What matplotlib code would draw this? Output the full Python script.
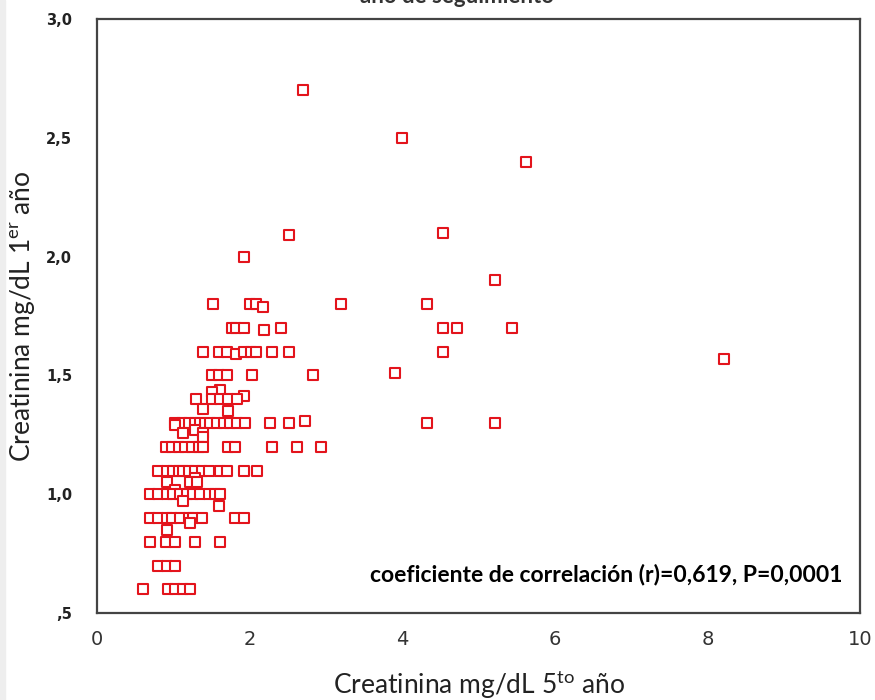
import numpy as np
import matplotlib
matplotlib.use("Agg")
import matplotlib.pyplot as plt
from matplotlib.patches import Rectangle

# creatinine 5th year (x) vs 1st year (y)
crea_5to = [
    2.70, 4.00, 5.62, 2.52, 4.53, 1.93, 5.22,
    1.52, 2.01, 2.08, 2.18, 3.19, 4.32,
    1.77, 1.82, 1.93, 2.19, 2.41, 4.53, 4.72, 5.44,
    1.39, 1.60, 1.70, 1.82, 1.93, 2.02, 2.08, 2.29, 2.52, 4.53,
    8.22, 3.91,
    1.50, 1.60, 1.70, 2.03, 2.83,
    1.61, 1.50, 1.93,
    1.30, 1.50, 1.61, 1.72, 1.83,
    1.39, 1.71,
    1.02, 1.11, 1.20, 1.28, 1.35, 1.41, 1.48, 1.57, 1.66, 1.74, 1.83, 1.94, 2.27, 2.51, 4.32, 5.22,
    2.73, 1.02, 1.28, 1.13, 1.39, 1.39,
    0.90, 0.98, 1.07, 1.15, 1.24, 1.33, 1.39, 1.71, 1.81, 2.29, 2.62, 2.94,
    0.80, 0.92, 1.00, 1.07, 1.13, 1.20, 1.28, 1.37, 1.46, 1.61, 1.70, 1.92, 2.09,
    1.28, 0.91, 1.22, 1.31, 1.02,
    0.69, 0.80, 0.91, 1.00, 1.09, 1.18, 1.26, 1.35, 1.46, 1.55, 1.61,
    1.12, 1.60,
    0.69, 0.80, 0.91, 0.98, 1.09, 1.20, 1.26, 1.37, 1.81, 1.92,
    1.22, 0.91,
    0.69, 0.90, 1.02, 1.28, 1.61,
    0.80, 0.91, 1.02,
    0.60, 0.93, 1.02, 1.12, 1.22,
]
crea_1er = [
    2.70, 2.50, 2.40, 2.09, 2.10, 2.00, 1.90,
    1.80, 1.80, 1.80, 1.79, 1.80, 1.80,
    1.70, 1.70, 1.70, 1.69, 1.70, 1.70, 1.70, 1.70,
    1.60, 1.60, 1.60, 1.59, 1.60, 1.60, 1.60, 1.60, 1.60, 1.60,
    1.57, 1.51,
    1.50, 1.50, 1.50, 1.50, 1.50,
    1.44, 1.43, 1.415,
    1.40, 1.40, 1.40, 1.40, 1.40,
    1.36, 1.35,
    1.30, 1.30, 1.30, 1.30, 1.30, 1.30, 1.30, 1.30, 1.30, 1.30, 1.30, 1.30, 1.30, 1.30, 1.30, 1.30,
    1.31, 1.29, 1.27, 1.26, 1.26, 1.24,
    1.20, 1.20, 1.20, 1.20, 1.20, 1.20, 1.20, 1.20, 1.20, 1.20, 1.20, 1.20,
    1.10, 1.10, 1.10, 1.10, 1.10, 1.10, 1.10, 1.10, 1.10, 1.10, 1.10, 1.10, 1.10,
    1.07, 1.05, 1.05, 1.05, 1.02,
    1.00, 1.00, 1.00, 1.00, 1.00, 1.00, 1.00, 1.00, 1.00, 1.00, 1.00,
    0.97, 0.95,
    0.90, 0.90, 0.90, 0.90, 0.90, 0.90, 0.90, 0.90, 0.90, 0.90,
    0.88, 0.85,
    0.80, 0.80, 0.80, 0.80, 0.80,
    0.70, 0.70, 0.70,
    0.60, 0.60, 0.60, 0.60, 0.60,
]

x_ticks = [0, 2, 4, 6, 8, 10]
y_ticks = [0.5, 1.0, 1.5, 2.0, 2.5, 3.0]
y_tick_labels = [",5", "1,0", "1,5", "2,0", "2,5", "3,0"]

# superscripts in the same family as the labels
plt.rcParams['mathtext.fontset'] = 'custom'
plt.rcParams['mathtext.rm'] = 'Lato'

fig = plt.figure(figsize=(8.75, 7), dpi=100)
ax = fig.add_axes([0.111, 0.124, 0.872, 0.849])

ax.scatter(crea_5to, crea_1er, marker='s', s=44, facecolors='white',
           edgecolors='#e3141c', linewidths=1.5, zorder=3)

ax.set_xlim(0, 10)
ax.set_ylim(0.5, 3.0)
ax.set_xticks(x_ticks)
ax.set_xticklabels([str(t) for t in x_ticks], fontsize=14, color='#333333')
ax.set_yticks(y_ticks)
ax.set_yticklabels(y_tick_labels, fontsize=10.5, fontweight='bold', color='#222222')
ax.tick_params(length=0, pad=18)
ax.tick_params(axis='x', pad=12)

for sp in ax.spines.values():
    sp.set_color('#444444')
    sp.set_linewidth(1.6)

ax.set_xlabel('Creatinina mg/dL 5$^{\\mathrm{to}}$ año', fontsize=19,
              family='Lato', color='#222222', labelpad=14)
ax.set_ylabel('Creatinina mg/dL 1$^{\\mathrm{er}}$ año', fontsize=19,
              family='Lato', color='#222222', labelpad=6)

ax.text(0.977, 0.065, 'coeficiente de correlación (r)=0,619, P=0,0001',
        transform=ax.transAxes, ha='right', va='center', fontsize=16.5,
        fontweight='bold', family='Lato', color='black')

# title is cut off at the top of the image
fig.text(0.522, 0.996, 'año de seguimiento', ha='center', va='baseline',
         fontsize=16, fontweight='bold', family='Lato', color='#333333')

# light grey strip at the left edge
fig.patches.append(Rectangle((0, 0), 5 / 875, 1, transform=fig.transFigure,
                             color='#eeeeee', zorder=0))

plt.savefig('out.png', dpi=100)
